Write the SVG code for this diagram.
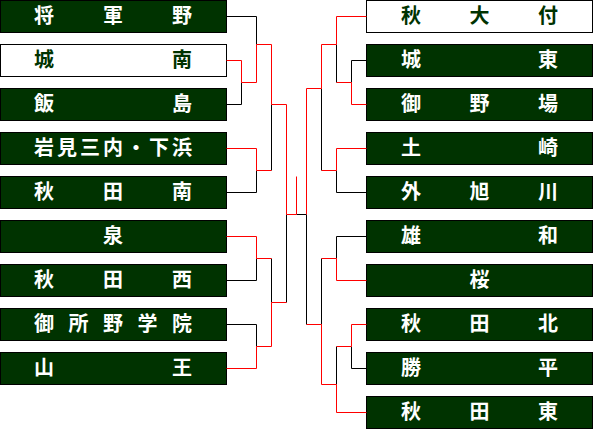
<svg xmlns="http://www.w3.org/2000/svg" width="595" height="431" viewBox="0 0 595 431">
<style>
.b{fill:#003300;stroke:#000;stroke-width:1}
.w{fill:#fff;stroke:#000;stroke-width:1}
.t{font-family:"Noto Sans CJK JP","Noto Sans CJK SC",sans-serif;font-size:20px;font-weight:bold;fill:#fff;text-anchor:middle}
.tg{fill:#003300}
.k{fill:none;stroke:#000;stroke-width:1}
.r{fill:none;stroke:#f00;stroke-width:1}
</style>
<rect width="595" height="431" fill="#fff"/>
<g id="L1"><rect class="b" x="0.5" y="0.5" width="226" height="32"/><text class="t" x="44 113 182" y="23">将軍野</text></g>
<g id="L2"><rect class="w" x="0.5" y="44.5" width="226" height="32"/><text class="t tg" x="44 182" y="67">城南</text></g>
<g id="L3"><rect class="b" x="0.5" y="88.5" width="226" height="32"/><text class="t" x="44 182" y="111">飯島</text></g>
<g id="L4"><rect class="b" x="0.5" y="132.5" width="226" height="32"/><text class="t" x="44 67 90 113 136 159 182" y="155">岩見三内・下浜</text></g>
<g id="L5"><rect class="b" x="0.5" y="176.5" width="226" height="32"/><text class="t" x="44 113 182" y="199">秋田南</text></g>
<g id="L6"><rect class="b" x="0.5" y="220.5" width="226" height="32"/><text class="t" x="113" y="243">泉</text></g>
<g id="L7"><rect class="b" x="0.5" y="264.5" width="226" height="32"/><text class="t" x="44 113 182" y="287">秋田西</text></g>
<g id="L8"><rect class="b" x="0.5" y="308.5" width="226" height="32"/><text class="t" x="44 78.5 113 147.5 182" y="331">御所野学院</text></g>
<g id="L9"><rect class="b" x="0.5" y="352.5" width="226" height="32"/><text class="t" x="44 182" y="375">山王</text></g>
<g id="R1"><rect class="w" x="366.5" y="0.5" width="226" height="32"/><text class="t tg" x="411 479.5 548" y="23">秋大付</text></g>
<g id="R2"><rect class="b" x="366.5" y="44.5" width="226" height="32"/><text class="t" x="411 548" y="67">城東</text></g>
<g id="R3"><rect class="b" x="366.5" y="88.5" width="226" height="32"/><text class="t" x="411 479.5 548" y="111">御野場</text></g>
<g id="R4"><rect class="b" x="366.5" y="132.5" width="226" height="32"/><text class="t" x="411 548" y="155">土崎</text></g>
<g id="R5"><rect class="b" x="366.5" y="176.5" width="226" height="32"/><text class="t" x="411 479.5 548" y="199">外旭川</text></g>
<g id="R6"><rect class="b" x="366.5" y="220.5" width="226" height="32"/><text class="t" x="411 548" y="243">雄和</text></g>
<g id="R7"><rect class="b" x="366.5" y="264.5" width="226" height="32"/><text class="t" x="479.5" y="287">桜</text></g>
<g id="R8"><rect class="b" x="366.5" y="308.5" width="226" height="32"/><text class="t" x="411 479.5 548" y="331">秋田北</text></g>
<g id="R9"><rect class="b" x="366.5" y="352.5" width="226" height="32"/><text class="t" x="411 548" y="375">勝平</text></g>
<g id="R10"><rect class="b" x="366.5" y="396.5" width="226" height="32"/><text class="t" x="411 479.5 548" y="419">秋田東</text></g>
<g id="connectors">
<path class="k" d="M226.5,16.5H256.5V44.5 M226.5,104.5H241.5V82.5 M271.5,104.5V170.5 M226.5,192.5H256.5V170.5 M226.5,280.5H256.5V258.5 M271.5,258.5V302.5 M226.5,324.5H256.5V346.5 M286.5,214.5V302.5 M296.5,214.5H306.5V324.5"/>
<path class="r" d="M226.5,60.5H241.5V82.5H256.5V44.5H271.5V104.5H286.5V214.5H296.5V176.5 M226.5,148.5H256.5V170.5H271.5 M226.5,236.5H256.5V258.5H271.5 M226.5,368.5H256.5V346.5H271.5V302.5H286.5"/>
<path class="k" d="M366.5,60.5H351.5V82.5 M336.5,44.5V82.5 M366.5,192.5H336.5V170.5 M321.5,88.5V170.5 M366.5,236.5H336.5V258.5 M321.5,258.5V324.5 M366.5,368.5H351.5V346.5 M336.5,346.5V384.5"/>
<path class="r" d="M366.5,16.5H336.5V44.5H321.5V88.5H306.5V214.5 M366.5,104.5H351.5V82.5H336.5 M366.5,148.5H336.5V170.5H321.5 M366.5,280.5H336.5V258.5H321.5 M366.5,324.5H351.5V346.5H336.5 M366.5,412.5H336.5V384.5H321.5V324.5H306.5"/>
</g>
</svg>
